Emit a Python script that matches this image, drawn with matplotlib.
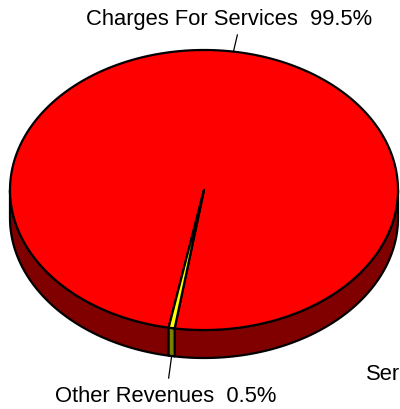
import numpy as np
import matplotlib.pyplot as plt
from matplotlib.patches import Polygon

plt.rcParams['font.family'] = ['Liberation Sans', 'DejaVu Sans']

# revenue shares (%)
labels = ['Charges For Services', 'Other Revenues']
shares = [99.5, 0.5]
top_colors = ['#ff0000', '#ffff00']
side_colors = ['#800000', '#808000']

# pie geometry in pixel space
cx, cy = 204, 190
rx, ry = 194, 140
depth = 28
start = 261.3  # degrees, counter-clockwise

fig = plt.figure(figsize=(4.0, 4.09), dpi=100)
ax = fig.add_axes([0, 0, 1, 1])
ax.set_xlim(0, 400)
ax.set_ylim(409, 0)
ax.axis('off')


def arc(t0, t1, n=200):
    t = np.radians(np.linspace(t0, t1, n))
    return cx + rx * np.cos(t), cy - ry * np.sin(t)


bounds = start + 360 * np.concatenate([[0], np.cumsum(shares)]) / 100.0

# front walls (only the lower half of the ellipse is visible)
for i in range(len(shares)):
    t0, t1 = bounds[i], bounds[i + 1]
    for k in range(-1, 3):
        lo = max(t0, 180 + 360 * k)
        hi = min(t1, 360 + 360 * k)
        if hi <= lo:
            continue
        x, y = arc(lo, hi)
        pts = np.vstack([np.column_stack([x, y]),
                         np.column_stack([x[::-1], y[::-1] + depth])])
        ax.add_patch(Polygon(pts, closed=True, facecolor=side_colors[i],
                             edgecolor='black', linewidth=1.6, joinstyle='round'))

# top faces
for i in range(len(shares)):
    x, y = arc(bounds[i], bounds[i + 1], 600)
    pts = np.vstack([[cx, cy], np.column_stack([x, y])])
    ax.add_patch(Polygon(pts, closed=True, facecolor=top_colors[i],
                         edgecolor='black', linewidth=1.6, joinstyle='round'))

# labels with leader lines
mids = (bounds[:-1] + bounds[1:]) / 2
t = np.radians(mids[0])
lx, ly = cx + rx * np.cos(t), cy - ry * np.sin(t)
ax.plot([lx - 3, lx + 1], [ly, ly - 17], color='black', lw=0.9)
ax.text(229, 20, f'{labels[0]}  {shares[0]}%', ha='center', va='center',
        fontsize=15.8)

t = np.radians(mids[1])
lx, ly = cx + rx * np.cos(t), cy - ry * np.sin(t) + depth
ax.plot([lx, lx - 3], [ly, ly + 22], color='black', lw=0.9)
ax.text(166, 396, f'{labels[1]}  {shares[1]}%', ha='center', va='center',
        fontsize=15.8)

ax.text(366, 374, 'Ser', ha='left', va='center', fontsize=15.8)

fig.savefig('out.png', dpi=100)
